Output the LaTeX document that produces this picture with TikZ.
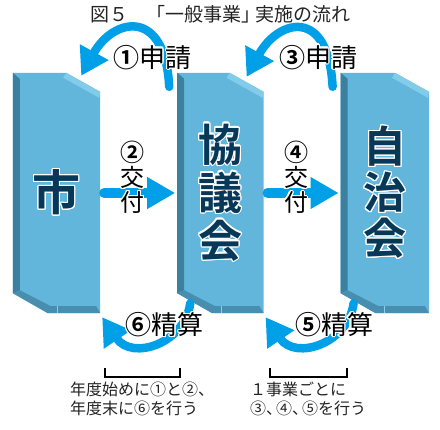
\documentclass[tikz,border=0pt]{standalone}
\usepackage{fontspec}
\setmainfont{Noto Sans CJK JP}[BoldFont={Noto Sans CJK JP Bold}]
\usepackage{contour}
\contourlength{1.2pt}
\usetikzlibrary{positioning,arrows.meta,calc}
\definecolor{flowFace}{RGB}{98,182,220}
\definecolor{flowSide}{RGB}{60,128,160}
\definecolor{flowBase}{RGB}{72,142,174}
\definecolor{flowTop}{RGB}{130,204,234}
\definecolor{flowCyan}{RGB}{0,160,233}
\definecolor{flowNavy}{RGB}{8,56,88}
\definecolor{flowInk}{RGB}{35,35,35}

\newcommand{\halo}[1]{\contour{white}{#1}}
% bevelled block drawn on the frame of node #1
\newcommand{\prism}[1]{%
  \fill[flowFace] (#1.north west) -- ($(#1.north east)+(-34,0)$) -- ($(#1.north east)+(0,19)$)
    -- (#1.south east) -- ($(#1.south west)+(35,0)$) -- ($(#1.south west)+(0,-20)$) -- cycle;
  \fill[flowTop] ($(#1.north east)+(-34,0)$) -- ($(#1.north east)+(0,19)$)
    -- ($(#1.north east)+(-1,25)$) -- ($(#1.north east)+(-37,5)$) -- cycle;
  \fill[flowSide] (#1.north west) -- ($(#1.north west)+(7,6)$) -- ($(#1.south west)+(7,-23)$)
    -- ($(#1.south west)+(0,-20)$) -- cycle;
  \fill[flowBase] ($(#1.south west)+(0,-20)$) -- ($(#1.south west)+(7,-23)$) -- ($(#1.south west)+(38,-7)$)
    -- ($(#1.south east)+(-4,-7)$) -- (#1.south east) -- ($(#1.south west)+(35,0)$) -- cycle;
  \draw[flowFace!70!white, line width=0.6pt] ($(#1.south west)+(44,-7)$) -- ($(#1.south west)+(44,0)$);
}

\begin{document}
\begin{tikzpicture}[x=1pt, y=-1pt,
    block/.style={minimum width=87pt, minimum height=240pt, inner sep=0pt},
    blocktext/.style={font=\bfseries\fontsize{44}{48}\selectfont, text=flowNavy, align=center, inner sep=0pt},
    steplabel/.style={font=\fontsize{26}{26}\selectfont, text=black, inner sep=0pt},
    sidelabel/.style={font=\fontsize{24}{25}\selectfont, text=black, align=center, inner sep=0pt},
    note/.style={font=\fontsize{16}{18.5}\selectfont, text=flowInk, align=left, inner sep=0pt},
    sendarrow/.style={-{Triangle[length=28pt, width=30pt]}, line width=10pt, line cap=round,
      color=flowCyan, shorten <=4pt, shorten >=2pt},
    backarrow/.style={-{Triangle[length=27pt, width=31pt]}, line width=8.5pt, line cap=round, color=flowCyan},
    bracket/.style={draw=black, line width=1.6pt}
  ]
  \useasboundingbox (0,0) rectangle (440,430);

  \node[font=\fontsize{19}{19}\selectfont, text=flowInk] (title) at (220,14) {図５　「一般事業」\kern-6pt実施の流れ};

  \node[block] (shi) at (56.5,193) {};
  \node[block, right=77pt of shi, minimum width=86pt] (kyo) {};
  \node[block, right=77pt of kyo, minimum width=88pt] (jichi) {};
  \prism{shi}
  \prism{kyo}
  \prism{jichi}

  \node[blocktext, font=\bfseries\fontsize{48}{48}\selectfont] at (shi.center) {\halo{市}};
  \node[blocktext] at (kyo.center) {\halo{協}\\\halo{議}\\\halo{会}};
  \node[blocktext, font=\bfseries\fontsize{43}{46}\selectfont] at (jichi.center) {\halo{自}\\\halo{治}\\\halo{会}};

  % requests (top) and settlements (bottom)
  \draw[backarrow] ($(kyo.north west)+(-8,14)$) .. controls +(-4,-80) and +(32,-58) .. ($(shi.north east)+(-19,3)$);
  \draw[backarrow] ($(jichi.north west)+(-8,14)$) .. controls +(-4,-80) and +(32,-58) .. ($(kyo.north east)+(-17,4)$);
  \draw[backarrow] ($(kyo.south west)+(13,-10)$) .. controls +(-5,40) and +(30,44) .. ($(shi.south east)+(2,4)$);
  \draw[backarrow] ($(jichi.south west)+(13,-10)$) .. controls +(-5,40) and +(30,44) .. ($(kyo.south east)+(2,4)$);

  % grants
  \draw[sendarrow] (shi.east) -- (kyo.west);
  \draw[sendarrow] (kyo.east) -- (jichi.west);

  \node[steplabel] (req1) at ($(shi.north east)!0.5!(kyo.north west)+(14,-15)$) {\halo{\textbf{①}申請}};
  \node[steplabel] (req3) at ($(kyo.north east)!0.5!(jichi.north west)+(16,-15)$) {\halo{\textbf{③}申請}};
  \node[sidelabel] (give2) at ($(shi.east)!0.5!(kyo.west)+(-6,-15)$) {\halo{\textbf{②}}\\\halo{交}\\\halo{付}};
  \node[sidelabel] (give4) at ($(kyo.east)!0.5!(jichi.west)+(-6,-15)$) {\halo{\textbf{④}}\\\halo{交}\\\halo{付}};
  \node[steplabel] (set6) at ($(shi.south east)!0.5!(kyo.south west)+(26,12)$) {\halo{\textbf{⑥}精算}};
  \node[steplabel] (set5) at ($(kyo.south east)!0.5!(jichi.south west)+(32,12)$) {\halo{\textbf{⑤}精算}};

  \draw[bracket] (105,368) |- (180,377) -- (180,368);
  \draw[bracket] (270,368) |- (347,377) -- (347,368);

  \node[note, anchor=north west] (note1) at (70,382) {年度始めに①と②、\\年度末に⑥を行う};
  \node[note, anchor=north west] (note2) at (250,382) {１事業ごとに\\③、\kern-6pt④、\kern-6pt⑤を行う};
\end{tikzpicture}
\end{document}
